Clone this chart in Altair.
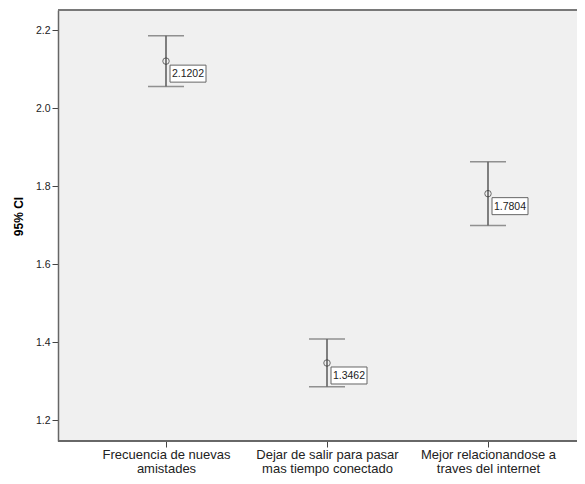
import altair as alt
import pandas as pd

categories = [
    "Frecuencia de nuevas\namistades",
    "Dejar de salir para pasar\nmas tiempo conectado",
    "Mejor relacionandose a\ntraves del internet",
]
means = [2.1202, 1.3462, 1.7804]
ci_lower = [2.055, 1.285, 1.699]
ci_upper = [2.185, 1.408, 1.862]
mean_labels = ["2.1202", "1.3462", "1.7804"]
y_ticks = [1.2, 1.4, 1.6, 1.8, 2.0, 2.2]

df = pd.DataFrame({
    "cat": categories,
    "mean": means,
    "lo": ci_lower,
    "hi": ci_upper,
    "lab": mean_labels,
})

W, H = 519, 431
xscale = alt.Scale(type="point", domain=categories, range=[108, 430], padding=0)
yscale = alt.Scale(domain=[1.1462, 2.2513], nice=False, zero=False)

x_enc = alt.X("cat:N", scale=xscale, sort=categories, axis=alt.Axis(
    title=None, domain=False, tickSize=6, tickColor="#444", labelAngle=0,
    labelExpr="split(datum.value, '\\n')", labelFontSize=13, labelLineHeight=14,
    labelBaseline="top", labelPadding=1, labelColor="#222", labelFont="Liberation Sans"))
y_enc = alt.Y("mean:Q", scale=yscale, axis=alt.Axis(
    title="95% CI", values=y_ticks, format=".1f", grid=False, domainColor="#666",
    domainWidth=1.5, tickColor="#444", tickSize=6, labelPadding=2, labelFontSize=10.5,
    labelColor="#222", labelFont="Liberation Sans", titleFont="Liberation Sans",
    titleFontSize=12, titleFontWeight="bold", titleColor="#000", titleX=-40, titleY=206,
    titleAngle=-90, titleBaseline="middle", titleAlign="center"))

base = alt.Chart(df)

top_line = base.mark_rule(color="#777", strokeWidth=1.5).encode(
    x=alt.value(0), x2=alt.value(W), y=alt.value(0))
bottom_line = base.mark_rule(color="#666", strokeWidth=1.5).encode(
    x=alt.value(0), x2=alt.value(W), y=alt.value(H))

vline = base.mark_rule(color="#333", strokeWidth=1.2).encode(
    x=x_enc, y=alt.Y("lo:Q", scale=yscale), y2="hi:Q")
cap_hi = base.mark_tick(color="#666", size=36, thickness=1.5, orient="horizontal").encode(
    x=alt.X("cat:N", scale=xscale, sort=categories), y=alt.Y("hi:Q", scale=yscale))
cap_lo = base.mark_tick(color="#666", size=36, thickness=1.5, orient="horizontal").encode(
    x=alt.X("cat:N", scale=xscale, sort=categories), y=alt.Y("lo:Q", scale=yscale))
pts = base.mark_point(shape="circle", filled=False, size=42, color="#333", strokeWidth=1).encode(
    x=alt.X("cat:N", scale=xscale, sort=categories), y=y_enc)
boxes = base.mark_rect(width=36, height=17, xOffset=22, yOffset=12.5, fill="white",
                       stroke="#666", strokeWidth=1).encode(
    x=alt.X("cat:N", scale=xscale, sort=categories), y=alt.Y("mean:Q", scale=yscale))
texts = base.mark_text(xOffset=22, yOffset=13, fontSize=10.5, color="#222",
                       font="Liberation Sans").encode(
    x=alt.X("cat:N", scale=xscale, sort=categories), y=alt.Y("mean:Q", scale=yscale),
    text="lab:N")

chart = alt.layer(top_line, bottom_line, vline, cap_hi, cap_lo, pts, boxes, texts).properties(
    width=W, height=H,
    autosize=alt.AutoSizeParams(type="none"),
    padding={"left": 50, "top": 2, "right": 0, "bottom": 35},
    background="white",
).configure_view(fill="#f0f0f0", strokeWidth=0)

chart.save("out.html", embed_options={"renderer": "svg", "actions": False})
